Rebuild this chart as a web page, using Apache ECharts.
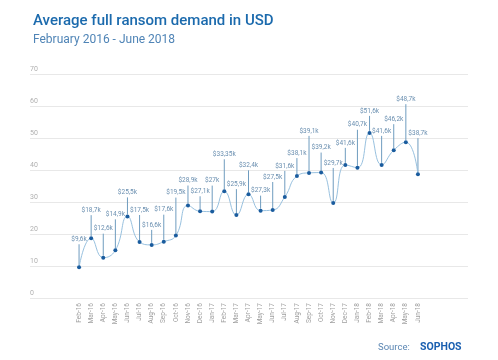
<!DOCTYPE html>
<html>
<head>
<meta charset="utf-8">
<script src="https://cdn.jsdelivr.net/npm/echarts@6/dist/echarts.min.js"></script>
<style>
html,body{margin:0;padding:0;background:#fff;}
#c{width:498px;height:360px;}
</style>
</head>
<body>
<div id="c"></div>
<script>
// ---- data ----
const months = ['Feb-16','Mar-16','Apr-16','May-16','Jun-16','Jul-16','Aug-16','Sep-16','Oct-16','Nov-16','Dec-16',
  'Jan-17','Feb-17','Mar-17','Apr-17','May-17','Jun-17','Jul-17','Aug-17','Sep-17','Oct-17','Nov-17','Dec-17',
  'Jan-18','Feb-18','Mar-18','Apr-18','May-18','Jun-18'];
const demandK = [9.6,18.7,12.6,14.9,25.5,17.5,16.6,17.6,19.5,28.9,27.1,
  27,33.35,25.9,32.4,27.3,27.5,31.6,38.1,39.1,39.2,29.7,41.6,
  40.7,51.6,41.6,46.2,48.7,38.7];
const yTicks = [0,10,20,30,40,50,60,70];

// ---- label placement (pixels above each point) ----
const labelLift = [28,28,29,36,24,32,20,32,43,25,20,
  31,37,31,29,20,33,31,23,42,25,40,22,
  43,22,34,31,43,41];

const fmt = v => '$' + String(v).replace('.', ',') + 'k';

const chart = echarts.init(document.getElementById('c'), null, {renderer:'canvas'});
const gridTop = 74, gridBottom = 62;
const option = {
  animation: false,
  backgroundColor: '#fff',
  title: [
    {text: 'Average full ransom demand in USD', left: 28, top: 9,
     textStyle: {fontFamily: 'Roboto', fontSize: 15, fontWeight: 500, color: '#1b6aad'}},
    {text: 'February 2016 - June 2018', left: 28, top: 29,
     textStyle: {fontFamily: 'Roboto', fontSize: 12, fontWeight: 'normal', color: '#4f84b6'}}
  ],
  graphic: [
    {type: 'text', left: 378, top: 343,
     style: {text: 'Source:', fontFamily: 'Roboto', fontSize: 9.5, fill: '#5b86b3'}},
    {type: 'text', left: 420, top: 342,
     style: {text: 'SOPHOS', fontFamily: 'Roboto', fontSize: 10.5, fontWeight: 'bold', fill: '#1a5fb0'}}
  ],
  grid: [
    {left: 30, right: 30, top: gridTop, bottom: gridBottom},
    {left: 73, right: 74, top: gridTop, bottom: gridBottom}
  ],
  xAxis: [
    {gridIndex: 0, type: 'value', show: false, min: 0, max: 1},
    {gridIndex: 1, type: 'category', data: months, boundaryGap: true,
     axisLine: {show: false}, axisTick: {show: false},
     axisLabel: {rotate: 90, fontSize: 6.5, color: '#a0a0a0', margin: 5, interval: 0, fontFamily: 'Roboto'}}
  ],
  yAxis: [
    {gridIndex: 0, type: 'value', min: 0, max: 70, interval: 10,
     axisLine: {show: false}, axisTick: {show: false},
     splitLine: {lineStyle: {color: '#e8e8e8', width: 1}},
     axisLabel: {inside: true, margin: 0, verticalAlign: 'bottom', align: 'left', padding: [0,0,1,0],
       fontSize: 7, color: '#b0b0b0', fontFamily: 'Roboto',
       formatter: v => yTicks.includes(v) ? String(v) : ''}},
    {gridIndex: 1, type: 'value', min: 0, max: 70, show: false, splitLine: {show: false}}
  ],
  series: [
    {type: 'custom', xAxisIndex: 1, yAxisIndex: 1, z: 2,
     data: demandK.map((v, i) => [i, v]),
     renderItem: function (params, api) {
       const i = api.value(0), v = api.value(1);
       const p = api.coord([i, v]);
       const lift = labelLift[i];
       return {type: 'group', children: [
         {type: 'line', shape: {x1: p[0], y1: p[1] - 2, x2: p[0], y2: p[1] - lift + 5},
          style: {stroke: '#6f9cbf', lineWidth: 1}},
         {type: 'text', style: {text: fmt(v), x: p[0], y: p[1] - lift, align: 'center', verticalAlign: 'middle',
          fontSize: 6.5, fontFamily: 'Roboto', fill: '#6a8fb0'}}
       ]};
     }},
    {type: 'line', xAxisIndex: 1, yAxisIndex: 1, z: 3, data: demandK, smooth: 0.5,
     symbol: 'circle', symbolSize: 4,
     lineStyle: {color: '#98c1df', width: 1},
     itemStyle: {color: '#1a5c9e'}}
  ]
};
chart.setOption(option);
</script>
</body>
</html>
